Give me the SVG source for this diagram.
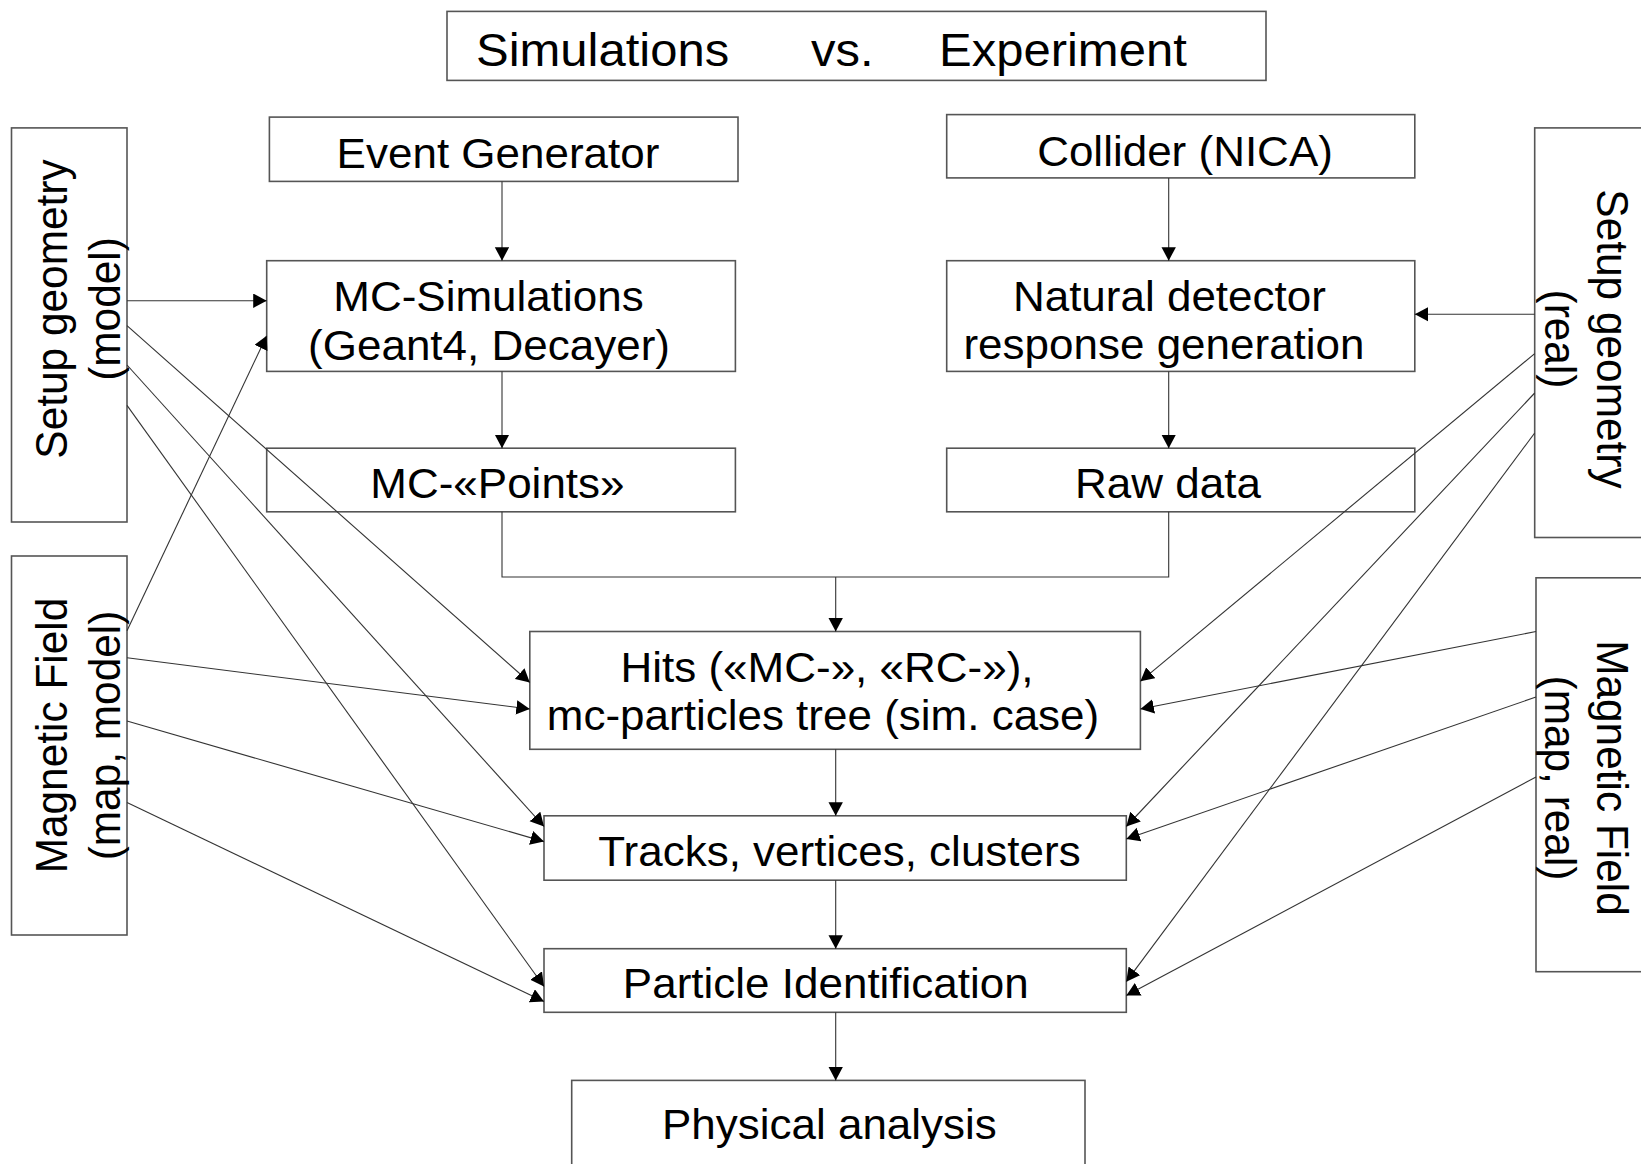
<svg xmlns="http://www.w3.org/2000/svg" width="1641" height="1164" viewBox="0 0 1641 1164">
<style>
.box{fill:#fff;stroke:#555;stroke-width:1.6}
.t{font-family:"Liberation Sans",Arial,sans-serif;font-size:44px;fill:#000;text-anchor:middle}
.tt{font-family:"Liberation Sans",Arial,sans-serif;font-size:49px;fill:#000}
.r{font-family:"Liberation Sans",Arial,sans-serif;font-size:42.4px;fill:#000;text-anchor:middle}
.c{fill:none;stroke:#333;stroke-width:1.1}
</style>
<defs>
<marker id="ah" markerUnits="userSpaceOnUse" markerWidth="14" markerHeight="15" refX="13.5" refY="7.2" orient="auto">
<path d="M0,0 L13.5,7.2 L0,14.4 z" fill="#000"/>
</marker>
</defs>
<rect width="1641" height="1164" fill="#fff"/>

<g id="title">
<rect class="box" x="447" y="11.4" width="819" height="69"/>
<g transform="translate(0,66) scale(1,0.953)">
<text class="tt" x="476" y="0">Simulations</text>
<text class="tt" x="811" y="0">vs.</text>
<text class="tt" x="939" y="0">Experiment</text>
</g>
</g>

<g id="event-generator">
<rect class="box" x="269.4" y="117.1" width="468.6" height="64.3"/>
<text class="t" transform="translate(498,168) scale(1,0.953)">Event Generator</text>
</g>

<g id="mc-simulations">
<rect class="box" x="266.7" y="260.7" width="468.7" height="110.7"/>
<text class="t" transform="translate(488.5,310.7) scale(1,0.953)">MC-Simulations</text>
<text class="t" transform="translate(489,359.5) scale(1,0.953)">(Geant4, Decayer)</text>
</g>

<g id="mc-points">
<rect class="box" x="266.7" y="448.2" width="468.7" height="63.6"/>
<text class="t" transform="translate(497.4,497.5) scale(1,0.953)">MC-«Points»</text>
</g>

<g id="collider">
<rect class="box" x="946.7" y="114.6" width="468.1" height="63.3"/>
<text class="t" transform="translate(1185,165.5) scale(1,0.953)">Collider (NICA)</text>
</g>

<g id="natural-detector">
<rect class="box" x="946.7" y="260.7" width="468.1" height="110.7"/>
<text class="t" transform="translate(1169.4,310.7) scale(1,0.953)">Natural detector</text>
<text class="t" transform="translate(1164,359) scale(1,0.953)">response generation</text>
</g>

<g id="raw-data">
<rect class="box" x="946.7" y="448.2" width="468.1" height="63.6"/>
<text class="t" transform="translate(1168,498) scale(1,0.953)">Raw data</text>
</g>

<g id="hits">
<rect class="box" x="529.8" y="631.5" width="610.6" height="117.8"/>
<text class="t" transform="translate(827,681.5) scale(1,0.953)">Hits («MC-», «RC-»),</text>
<text class="t" transform="translate(823,730) scale(1,0.953)">mc-particles tree (sim. case)</text>
</g>

<g id="tracks">
<rect class="box" x="544" y="815.8" width="582.3" height="64.4"/>
<text class="t" transform="translate(839.5,866.3) scale(1,0.953)">Tracks, vertices, clusters</text>
</g>

<g id="pid">
<rect class="box" x="544" y="948.7" width="582.3" height="63.6"/>
<text class="t" transform="translate(825.8,997.6) scale(1,0.953)">Particle Identification</text>
</g>

<g id="physical-analysis">
<rect class="box" x="571.7" y="1080.4" width="513.3" height="100"/>
<text class="t" transform="translate(829.4,1139) scale(1,0.953)">Physical analysis</text>
</g>

<g id="setup-geometry-model">
<rect class="box" x="11.5" y="127.9" width="115.5" height="394.1"/>
<text class="r" transform="translate(67,309) rotate(-90) scale(1,1.05)">Setup geometry</text>
<text class="r" transform="translate(119.5,309) rotate(-90) scale(1,1.05)">(model)</text>
</g>

<g id="magnetic-field-model">
<rect class="box" x="11.5" y="556" width="115.5" height="379"/>
<text class="r" transform="translate(67,735.5) rotate(-90) scale(1,1.05)">Magnetic Field</text>
<text class="r" transform="translate(119.5,735.5) rotate(-90) scale(1,1.05)">(map, model)</text>
</g>

<g id="setup-geometry-real">
<rect class="box" x="1534.7" y="127.9" width="120" height="409.6"/>
<text class="r" transform="translate(1597,339) rotate(90) scale(1,1.05)">Setup geometry</text>
<text class="r" transform="translate(1544.5,339) rotate(90) scale(1,1.05)">(real)</text>
</g>

<g id="magnetic-field-real">
<rect class="box" x="1536" y="577.8" width="120" height="393.9"/>
<text class="r" transform="translate(1597,778) rotate(90) scale(1,1.05)">Magnetic Field</text>
<text class="r" transform="translate(1544.5,778) rotate(90) scale(1,1.05)">(map, real)</text>
</g>

<g id="connectors">
<line class="c" x1="502" y1="181.4" x2="502" y2="260.7" marker-end="url(#ah)"/>
<line class="c" x1="502" y1="371.4" x2="502" y2="448.2" marker-end="url(#ah)"/>
<line class="c" x1="1168.7" y1="177.9" x2="1168.7" y2="260.7" marker-end="url(#ah)"/>
<line class="c" x1="1168.7" y1="371.4" x2="1168.7" y2="448.2" marker-end="url(#ah)"/>
<polyline class="c" points="502,511.8 502,577 1168.7,577 1168.7,511.8"/>
<line class="c" x1="835.7" y1="577" x2="835.7" y2="631.5" marker-end="url(#ah)"/>
<line class="c" x1="835.7" y1="749.3" x2="835.7" y2="815.8" marker-end="url(#ah)"/>
<line class="c" x1="835.7" y1="880.2" x2="835.7" y2="948.7" marker-end="url(#ah)"/>
<line class="c" x1="835.7" y1="1012.3" x2="835.7" y2="1080.4" marker-end="url(#ah)"/>

<line class="c" x1="127" y1="300.7" x2="266.7" y2="300.7" marker-end="url(#ah)"/>
<line class="c" x1="127" y1="325.7" x2="529.8" y2="682.5" marker-end="url(#ah)"/>
<line class="c" x1="127" y1="365" x2="544" y2="826.5" marker-end="url(#ah)"/>
<line class="c" x1="127" y1="405.4" x2="544" y2="986.5" marker-end="url(#ah)"/>
<line class="c" x1="127" y1="630.7" x2="266.7" y2="335.7" marker-end="url(#ah)"/>
<line class="c" x1="127" y1="657.8" x2="529.8" y2="709" marker-end="url(#ah)"/>
<line class="c" x1="127" y1="721" x2="544" y2="841.6" marker-end="url(#ah)"/>
<line class="c" x1="127" y1="802.6" x2="544" y2="1001.6" marker-end="url(#ah)"/>

<line class="c" x1="1534.7" y1="314.3" x2="1414.8" y2="314.3" marker-end="url(#ah)"/>
<line class="c" x1="1534.7" y1="353.6" x2="1140.4" y2="681.3" marker-end="url(#ah)"/>
<line class="c" x1="1534.7" y1="393" x2="1126.3" y2="826.5" marker-end="url(#ah)"/>
<line class="c" x1="1534.7" y1="433" x2="1126.3" y2="981.7" marker-end="url(#ah)"/>
<line class="c" x1="1536" y1="631.5" x2="1140.4" y2="709" marker-end="url(#ah)"/>
<line class="c" x1="1536" y1="697" x2="1126.3" y2="839" marker-end="url(#ah)"/>
<line class="c" x1="1536" y1="777" x2="1126.3" y2="995.6" marker-end="url(#ah)"/>
</g>
</svg>
